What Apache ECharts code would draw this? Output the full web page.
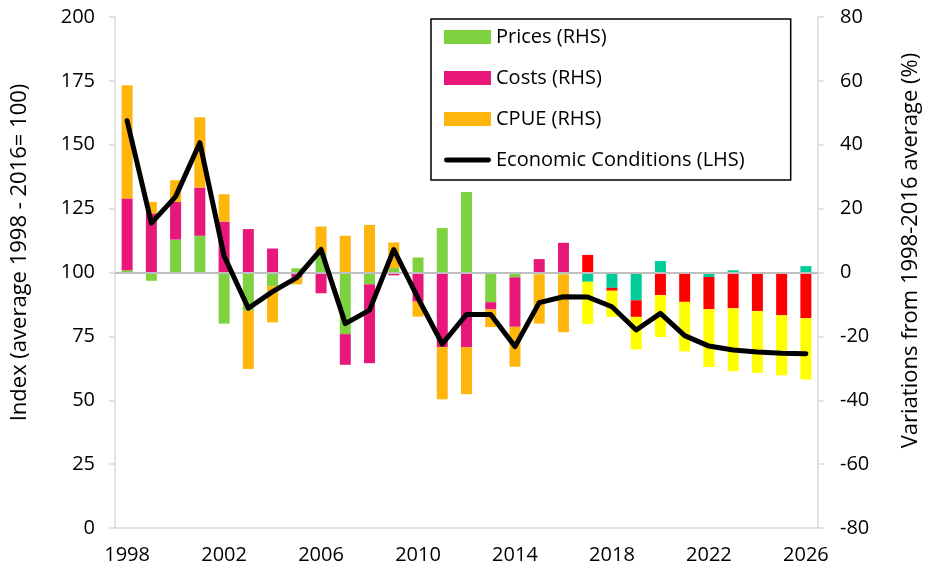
<!DOCTYPE html>
<html>
<head>
<meta charset="utf-8">
<script src="https://cdn.jsdelivr.net/npm/echarts@6/dist/echarts.min.js"></script>
<style>
  html, body { margin: 0; padding: 0; background: #fff; }
  #chart { width: 930px; height: 573px; }
</style>
</head>
<body>
<div id="chart"></div>
<script>
var years = ['1998', '1999', '2000', '2001', '2002', '2003', '2004', '2005', '2006', '2007',
  '2008', '2009', '2010', '2011', '2012', '2013', '2014', '2015', '2016', '2017',
  '2018', '2019', '2020', '2021', '2022', '2023', '2024', '2025', '2026'];
var firstProjection = '2017';

// RHS, % variation from 1998-2016 average
var prices = [0.7, -2.6, 10.3, 11.5, -16.0, -12.0, -4.3, 1.3, 6.1, -19.3,
  -3.7, 1.4, 4.7, 13.9, 25.2, -9.3, -1.5, -0.6, -0.6, -2.9,
  -4.8, -8.7, 3.6, 0, -1.4, 0.7, 0, 0, 2.0];
var costs = [22.5, 18.5, 11.8, 15.1, 15.9, 13.6, 7.5, -1.4, -6.5, -9.6,
  -24.7, -0.9, -9.1, -23.4, -23.4, -2.2, -15.5, 4.2, 9.3, 5.5,
  -0.9, -5.2, -7.1, -9.2, -10.1, -11.2, -12.1, -13.4, -14.3];
var cpue = [35.4, 3.6, 6.8, 22.0, 8.6, -18.2, -11.3, -2.3, 8.3, 11.5,
  14.9, 8.0, -4.7, -16.3, -14.7, -5.6, -12.5, -15.4, -18.1, -13.2,
  -8.2, -10.2, -13.1, -15.5, -18.1, -19.7, -19.3, -18.8, -19.2];

// LHS, index (average 1998-2016 = 100)
var econ = [159.4, 119.3, 129.7, 150.8, 106.5, 86, 92.5, 98, 109, 80,
  85.3, 109, 90, 72, 83.6, 83.6, 71, 88.2, 90.5, 90.4,
  86.6, 77.5, 84, 75.3, 71.2, 69.7, 68.9, 68.4, 68.2];

var leftTicks = [0, 200, 25];
var rightTicks = [-80, 80, 20];

var FONT = 'Open Sans';
var chart = echarts.init(document.getElementById('chart'));

// projected years get their own colour
function colored(values, histColor, projColor) {
  var cut = years.indexOf(firstProjection);
  return values.map(function (v, i) {
    return { value: v, itemStyle: { color: i >= cut ? projColor : histColor } };
  });
}

function barSeries(name, values, histColor, projColor) {
  return {
    name: name,
    type: 'bar',
    stack: 'drivers',
    yAxisIndex: 1,
    barWidth: 11,
    itemStyle: { color: histColor },
    data: colored(values, histColor, projColor)
  };
}

var prSeries = barSeries('Prices (RHS)', prices, '#7ED13F', '#00CC99');
prSeries.markLine = {
  silent: true,
  symbol: 'none',
  label: { show: false },
  lineStyle: { color: '#BFBFBF', width: 2, type: 'solid' },
  data: [{ yAxis: 0 }]
};

// thick black stroke for the line legend entry (tiny corner dots keep the box 47x14)
var lineIcon = 'path://M0,0L0.1,0L0,0.1Z M2,4.5L45,4.5A2.5,2.5,0,0,1,45,9.5L2,9.5A2.5,2.5,0,0,1,2,4.5Z M46.9,14L47,14L47,13.9Z';

var option = {
  animation: false,
  textStyle: { fontFamily: FONT },
  grid: { left: 115, right: 108, top: 17, bottom: 45 },
  legend: {
    orient: 'vertical',
    left: 431,
    top: 19,
    padding: [6, 46, 8, 13],
    itemGap: 17,
    itemWidth: 47,
    itemHeight: 14,
    borderColor: '#000',
    borderWidth: 1.5,
    backgroundColor: '#fff',
    textStyle: { fontFamily: FONT, fontSize: 20, color: '#000', lineHeight: 24 },
    data: [
      { name: 'Prices (RHS)', icon: 'rect' },
      { name: 'Costs (RHS)', icon: 'rect' },
      { name: 'CPUE (RHS)', icon: 'rect' },
      { name: 'Economic Conditions (LHS)', icon: lineIcon }
    ]
  },
  xAxis: {
    type: 'category',
    data: years,
    boundaryGap: true,
    axisLine: { lineStyle: { color: '#D9D9D9', width: 1.5 } },
    axisTick: { interval: 0, length: 6, lineStyle: { color: '#D9D9D9', width: 1.5 } },
    axisLabel: { interval: 3, fontSize: 20, color: '#000', margin: 17, fontFamily: FONT },
    splitLine: { show: false }
  },
  yAxis: [
    {
      type: 'value',
      min: leftTicks[0], max: leftTicks[1], interval: leftTicks[2],
      name: 'Index (average 1998 - 2016= 100)',
      nameLocation: 'middle',
      nameGap: 84,
      nameTextStyle: { fontSize: 22, color: '#000', fontFamily: FONT, padding: [0, 0, 0, 40] },
      axisLine: { show: true, onZero: false, lineStyle: { color: '#D9D9D9', width: 1.5 } },
      axisTick: { show: true, length: 6, lineStyle: { color: '#D9D9D9', width: 1.5 } },
      axisLabel: { fontSize: 20, color: '#000', margin: 20, fontFamily: FONT },
      splitLine: { show: false }
    },
    {
      type: 'value',
      position: 'right',
      min: rightTicks[0], max: rightTicks[1], interval: rightTicks[2],
      name: 'Variations from 1998-2016 average (%)',
      nameLocation: 'middle',
      nameGap: 82,
      nameRotate: 90,
      nameTextStyle: { fontSize: 22, color: '#000', fontFamily: FONT, padding: [0, 0, 0, 44] },
      axisLine: { show: true, onZero: false, lineStyle: { color: '#D9D9D9', width: 1.5 } },
      axisTick: { show: true, length: 6, lineStyle: { color: '#D9D9D9', width: 1.5 } },
      axisLabel: { fontSize: 20, color: '#000', margin: 22, fontFamily: FONT },
      splitLine: { show: false }
    }
  ],
  series: [
    prSeries,
    barSeries('Costs (RHS)', costs, '#E8177A', '#FF0000'),
    barSeries('CPUE (RHS)', cpue, '#FFB60C', '#FFFF00'),
    {
      name: 'Economic Conditions (LHS)',
      type: 'line',
      yAxisIndex: 0,
      data: econ,
      symbol: 'none',
      z: 5,
      itemStyle: { color: '#000' },
      lineStyle: { color: '#000', width: 5, join: 'round', cap: 'round' }
    }
  ]
};
chart.setOption(option);
</script>
</body>
</html>
